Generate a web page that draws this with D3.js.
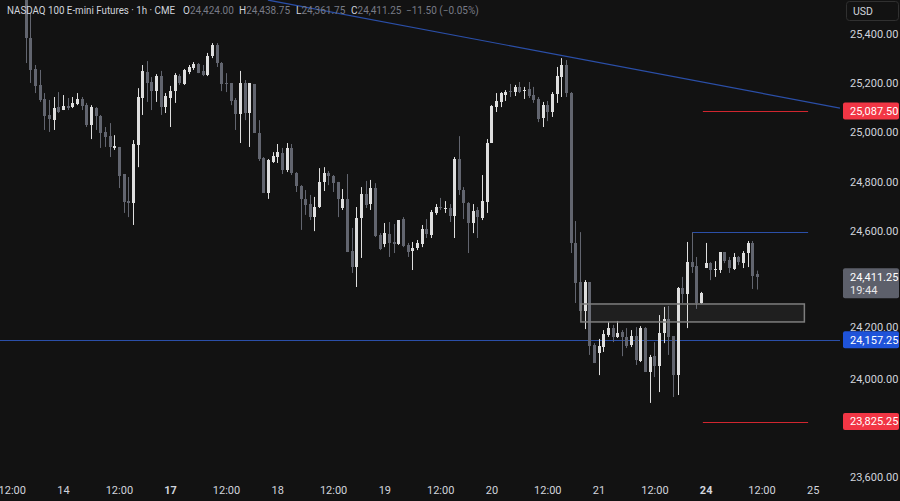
<!DOCTYPE html>
<html><head><meta charset="utf-8">
<script src="https://cdn.jsdelivr.net/npm/d3@7"></script>
<style>
html,body{margin:0;padding:0;background:#121212;overflow:hidden;}
svg{display:block;font-family:Roboto,"Liberation Sans",Arial,sans-serif;}
</style></head><body>
<svg id="c" width="900" height="501"></svg>
<script>
// ---- data (hourly bars, index 0 = first bar of the 14th) ----
const firstIndex = -8;
const opens = [25570,25384,25258,25193,25136,25071,25050,25103,25091,25107,
25103,25115,25136,25111,25030,25099,25067,25002,24985,24937,
24941,24831,24721,24713,24949,25140,25245,25205,25168,25229,
25103,25140,25168,25229,25197,25245,25262,25278,25250,25233,
25310,25355,25282,25201,25201,25132,25075,25201,25079,25197,
24998,24896,24754,24880,24900,24916,24847,24937,24835,24782,
24730,24709,24656,24697,24799,24835,24823,24799,24693,24730,
24518,24453,24652,24750,24709,24774,24583,24547,24587,24555,
24547,24648,24543,24518,24530,24547,24608,24583,24673,24697,
24689,24693,24660,24892,24766,24713,24632,24685,24652,24717,
24957,25103,25124,25152,25168,25164,25185,25168,25176,25152,
25136,25059,25111,25083,25156,25225,25274,25160,24551,24392,
24274,24392,24136,24104,24128,24177,24205,24169,24189,24169,
24136,24173,24071,24205,24027,24091,24051,24185,24242,24173,
24014,24368,24343,24473,24457,24307,24449,24469,24441,24441,
24514,24482,24445,24494,24469,24510,24551,24424];
const highs = [25619,25485,25274,25254,25160,25132,25144,25164,25152,25140,
25144,25160,25144,25120,25111,25103,25071,25022,25038,24989,
24941,24831,24819,24969,25180,25274,25290,25225,25237,25250,
25160,25189,25241,25237,25258,25274,25286,25282,25274,25323,
25363,25363,25286,25241,25201,25140,25250,25213,25201,25197,
25050,24900,24892,24920,24953,24937,24957,24953,24839,24786,
24766,24746,24738,24855,24859,24843,24827,24799,24770,24831,
24612,24697,24778,24803,24807,24794,24591,24632,24636,24628,
24644,24656,24551,24555,24563,24624,24648,24685,24709,24734,
24721,24709,24900,24985,24778,24717,24709,24697,24827,24973,
25111,25160,25164,25172,25197,25193,25205,25185,25205,25185,
25144,25124,25128,25164,25266,25302,25294,25164,24640,24595,
24400,24392,24144,24161,24197,24230,24218,24234,24197,24205,
24197,24209,24213,24209,24096,24148,24258,24291,24295,24173,
24372,24413,24555,24595,24494,24352,24551,24473,24477,24514,
24514,24494,24510,24498,24518,24559,24559,24438.75];
const lows = [25282,25201,25160,25124,25010,25002,25010,25079,25091,25091,
25099,25111,25091,25022,24973,25010,24937,24941,24900,24929,
24774,24673,24656,24624,24859,25071,25124,25091,25124,25071,
25079,25022,25120,25193,25193,25237,25254,25241,25229,25229,
25302,25266,25168,25164,25111,25010,24957,25050,24941,24998,
24884,24754,24730,24876,24876,24831,24839,24827,24758,24604,
24665,24644,24599,24693,24762,24786,24758,24656,24685,24514,
24429,24372,24490,24693,24685,24575,24522,24534,24494,24510,
24543,24534,24494,24441,24522,24534,24571,24571,24665,24685,
24673,24636,24571,24746,24648,24510,24591,24571,24644,24673,
24957,25083,25103,25128,25144,25148,25160,25136,25140,25120,
25042,25022,25046,25063,25120,25144,25144,24510,24307,24266,
24201,24096,24063,24014,24108,24169,24148,24165,24091,24124,
24128,24055,24067,24027,23901,24006,23945,24144,24096,23925,
23933,24307,24205,24429,24283,24303,24449,24400,24413,24429,
24469,24429,24441,24461,24449,24453,24364,24361.75];
const closes = [25384,25254,25189,25132,25067,25055,25099,25083,25107,25099,
25120,25136,25107,25030,25103,25067,24998,24981,24941,24945,
24823,24717,24713,24953,25144,25250,25201,25168,25229,25103,
25148,25168,25233,25201,25254,25266,25278,25241,25233,25310,
25355,25282,25197,25197,25128,25075,25201,25079,25201,24998,
24892,24754,24888,24904,24920,24847,24937,24835,24782,24730,
24705,24656,24697,24799,24835,24823,24794,24730,24730,24514,
24453,24652,24750,24705,24774,24579,24526,24591,24551,24547,
24644,24539,24514,24530,24551,24608,24587,24677,24697,24693,
24693,24660,24892,24766,24713,24632,24681,24656,24721,24957,
25107,25128,25160,25164,25164,25185,25164,25172,25148,25132,
25055,25111,25083,25156,25229,25274,25160,24551,24388,24274,
24392,24132,24063,24132,24181,24205,24169,24185,24169,24132,
24173,24075,24205,24027,24087,24051,24185,24242,24169,24014,
24368,24343,24473,24453,24307,24348,24469,24441,24445,24514,
24478,24449,24494,24473,24510,24551,24417,24411.25];

// visible price-scale labels (24,400 and 23,800 are covered by markers in the reference)
const priceTicks = [25400,25200,25000,24800,24600,24200,24000,23600];
const timeTickIndex = [-11,0,12,23,35,46,58,69,81,92,104,115,127,138,150,161];
const timeTickLabels = ["12:00","14","12:00","17","12:00","18","12:00","19","12:00","20","12:00","21","12:00","24","12:00","25"];
const boldTimeLabels = ["17","24"];

const trendLine = [[44.0, 25538], [166.85, 25099]];
const supportLevel = 24157.25;
const redLevels = [25087.50, 23825.25];
const redLevelSpan = [137.4, 160.0];
const blueShortLevel = 24595;
const blueShortSpan = [135.2, 160.0];
const zoneSpan = [111.2, 159.2];
const zonePrices = [24230, 24303];
const lastPrice = 24411.25;
const countdown = "19:44";

const titleText = "NASDAQ 100 E-mini Futures · 1h · CME";
const ohlcLetters = ["O","H","L","C"];
const ohlcValues = ["24,424.00","24,438.75","24,361.75","24,411.25"];
const changeText = "−11.50 (−0.05%)";

// ---- drawing ----
const svg = d3.select("#c");
const BG = "#121212";
svg.append("rect").attr("width",900).attr("height",501).attr("fill",BG);

const x = d3.scaleLinear().domain([-13.53, 166.85]).range([0, 840]);
const y = d3.scaleLinear().domain([23600, 25400]).range([477, 34]);

svg.append("defs").append("clipPath").attr("id","plot")
  .append("rect").attr("x",0).attr("y",0).attr("width",840).attr("height",482);
const g = svg.append("g").attr("clip-path","url(#plot)");

// support horizontal line
g.append("line").attr("x1",0).attr("x2",840)
  .attr("y1",Math.round(y(supportLevel))+0.5).attr("y2",Math.round(y(supportLevel))+0.5)
  .attr("stroke","#2b4fa8").attr("stroke-width",1);

// trend line
g.append("line")
  .attr("x1",x(trendLine[0][0])).attr("y1",y(trendLine[0][1]))
  .attr("x2",x(trendLine[1][0])).attr("y2",y(trendLine[1][1]))
  .attr("stroke","#2b4fa8").attr("stroke-width",1.2);

// candles
const bars = opens.map((o,k)=>({i:firstIndex+k,o,h:highs[k],l:lows[k],c:closes[k]}));
const UP = "#dedede", DN = "#62656f";
const col = d => d.c >= d.o ? UP : DN;
g.selectAll(".wick").data(bars).join("line")
  .attr("x1",d=>Math.round(x(d.i))+0.5).attr("x2",d=>Math.round(x(d.i))+0.5)
  .attr("y1",d=>y(d.h)).attr("y2",d=>y(d.l))
  .attr("stroke",col).attr("stroke-width",1);
g.selectAll(".body").data(bars).join("rect")
  .attr("x",d=>Math.round(x(d.i))-1).attr("width",3)
  .attr("y",d=>y(Math.max(d.o,d.c)))
  .attr("height",d=>Math.max(1, Math.abs(y(d.o)-y(d.c))))
  .attr("fill",col).attr("shape-rendering","crispEdges");

// zone box
g.append("rect")
  .attr("x",x(zoneSpan[0])).attr("width",x(zoneSpan[1])-x(zoneSpan[0]))
  .attr("y",y(zonePrices[1])).attr("height",y(zonePrices[0])-y(zonePrices[1]))
  .attr("fill","rgba(255,255,255,0.055)").attr("stroke","#7e7e7e").attr("stroke-width",1.5);

// short lines
redLevels.forEach(p=>{
  g.append("line").attr("x1",x(redLevelSpan[0])).attr("x2",x(redLevelSpan[1]))
   .attr("y1",Math.round(y(p))+0.5).attr("y2",Math.round(y(p))+0.5)
   .attr("stroke","#d0262f").attr("stroke-width",1.2);
});
g.append("line").attr("x1",x(blueShortSpan[0])).attr("x2",x(blueShortSpan[1]))
  .attr("y1",Math.round(y(blueShortLevel))+0.5).attr("y2",Math.round(y(blueShortLevel))+0.5)
  .attr("stroke","#2b4fa8").attr("stroke-width",1.2);

// price axis
const fmt = d3.format(",.2f");
const yAxis = svg.append("g").attr("transform","translate(850,0)")
  .call(d3.axisRight(y).tickValues(priceTicks).tickFormat(fmt).tickSize(0).tickPadding(0));
yAxis.select(".domain").remove();
yAxis.selectAll("text").attr("fill","#d1d4dc").attr("font-size","11px").attr("font-family","Roboto, sans-serif")
  .attr("dy", d => d === 24200 ? "0.12em" : "0.32em");

// time axis
const xAxis = svg.append("g").attr("transform","translate(0,486)")
  .call(d3.axisBottom(x).tickValues(timeTickIndex).tickFormat((d,k)=>timeTickLabels[k]).tickSize(0).tickPadding(0));
xAxis.select(".domain").remove();
xAxis.selectAll("text").attr("fill","#d1d4dc").attr("font-size","11px").attr("font-family","Roboto, sans-serif")
  .attr("font-weight",(d,k)=>boldTimeLabels.includes(timeTickLabels[k])?"bold":"normal");

// price markers
function marker(p, fill){
  const yy = y(p);
  svg.append("rect").attr("x",843).attr("y",yy-8.5).attr("width",56).attr("height",17).attr("rx",2).attr("fill",fill);
  svg.append("text").attr("x",850).attr("y",yy).attr("dy","0.35em").attr("fill","#ffffff")
    .attr("font-size","11px").text(fmt(p));
}
marker(redLevels[0], "#f23645");
marker(supportLevel, "#1f53d9");
marker(redLevels[1], "#f23645");
{
  const yy = y(lastPrice);
  svg.append("rect").attr("x",843).attr("y",yy-9).attr("width",56).attr("height",30).attr("rx",2).attr("fill","#5d606b");
  svg.append("text").attr("x",850).attr("y",yy).attr("dy","0.35em").attr("fill","#ffffff").attr("font-size","11px").text(fmt(lastPrice));
  svg.append("text").attr("x",850).attr("y",yy+13).attr("dy","0.35em").attr("fill","#e8e8ea").attr("font-size","11px").text(countdown);
}

// USD button
svg.append("rect").attr("x",846.5).attr("y",1.5).attr("width",52).attr("height",19).attr("rx",3)
  .attr("fill",BG).attr("stroke","#303030");
svg.append("text").attr("x",853).attr("y",11).attr("dy","0.35em").attr("fill","#d1d4dc").attr("font-size","10.5px").text("USD");

// header legend
const hdr = svg.append("g").attr("font-size","10px");
hdr.append("text").attr("x",7).attr("y",10).attr("dy","0.35em").attr("fill","#d1d4dc")
  .attr("textLength",168).attr("lengthAdjust","spacingAndGlyphs").text(titleText);
const letterX = [183, 239, 296, 351];
ohlcLetters.forEach((L,k)=>{
  const t = hdr.append("text").attr("x",letterX[k]).attr("y",10).attr("dy","0.35em");
  t.append("tspan").attr("fill","#d1d4dc").text(L);
  t.append("tspan").attr("fill","#787b86").text(ohlcValues[k]);
});
hdr.append("text").attr("x",406).attr("y",10).attr("dy","0.35em").attr("fill","#787b86").text(changeText);
</script>
</body></html>
